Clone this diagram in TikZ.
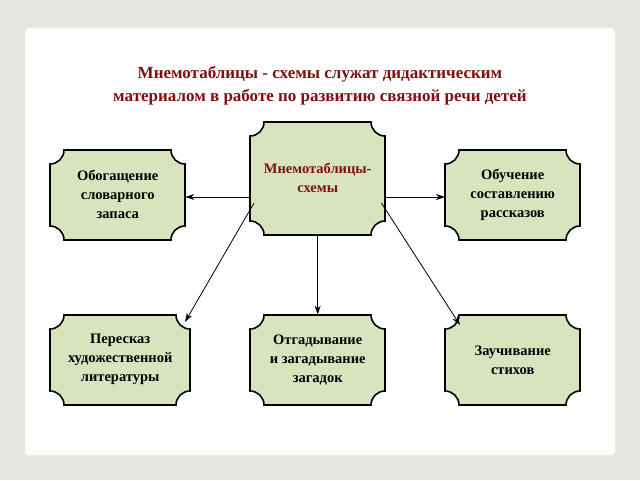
\documentclass[tikz,border=0pt]{standalone}
\usepackage{fontspec}
\setmainfont{Liberation Serif}
\usetikzlibrary{arrows.meta}
\definecolor{boxfill}{RGB}{215,228,189}
\definecolor{titlered}{RGB}{128,16,16}
\definecolor{bg}{RGB}{232,230,225}
\newcommand{\plq}[6]{%
  \draw[line width=1.6pt,fill=boxfill] (#2+14,#5) -- (#4-14,#5) arc[start angle=180,end angle=270,radius=14]
    -- (#4,#3+14) arc[start angle=90,end angle=180,radius=14]
    -- (#2+14,#3) arc[start angle=0,end angle=90,radius=14]
    -- (#2,#5-14) arc[start angle=270,end angle=360,radius=14] -- cycle;
  \node[inner sep=0pt,minimum width=#4-#2,minimum height=#5-#3,anchor=south west] (#1) at (#2,#3) {};
  \node[txt] (#1t) at (#1.center) {#6};}
\begin{document}
\begin{tikzpicture}[x=1pt,y=1pt,
  txt/.style={align=center,font=\fontsize{14.5}{19}\selectfont\bfseries},
  arr/.style={-{Stealth[length=9pt,width=6pt]},line width=0.8pt}]
\useasboundingbox (0,0) rectangle (640,480);
\fill[bg] (0,0) rectangle (640,480);
\fill[white,rounded corners=4pt] (25,25) rectangle (615,452);
\node[font=\fontsize{17}{23}\selectfont\bfseries,text=titlered,align=center] (title) at (320,394)
 {Мнемотаблицы - схемы служат дидактическим\\материалом в работе по развитию связной речи детей};
\plq{c}{250}{245}{385}{358}{\textcolor{titlered}{Мнемотаблицы-}\\\textcolor{titlered}{схемы}}
\plq{l}{50}{240}{185}{330}{Обогащение\\словарного\\запаса}
\plq{r}{445}{240}{580}{330}{Обучение\\составлению\\рассказов}
\plq{bl}{50}{75}{190}{165}{Пересказ\\художественной\\литературы}
\plq{bm}{250}{75}{385}{165}{Отгадывание\\и загадывание\\загадок}
\plq{br}{445}{75}{580}{165}{Заучивание\\стихов}
\draw[arr] (c.west |- 0,283) -- (l.east |- 0,283);
\draw[arr] (c.east |- 0,283) -- (r.west |- 0,283);
\draw[arr] (c.south) -- (bm.north);
\draw[arr] (c.south west) ++(4,32) coordinate (d1) -- (185,158);
\draw[arr] (c.south east) ++(-4,32) coordinate (d2) -- (460,155);
\end{tikzpicture}
\end{document}
